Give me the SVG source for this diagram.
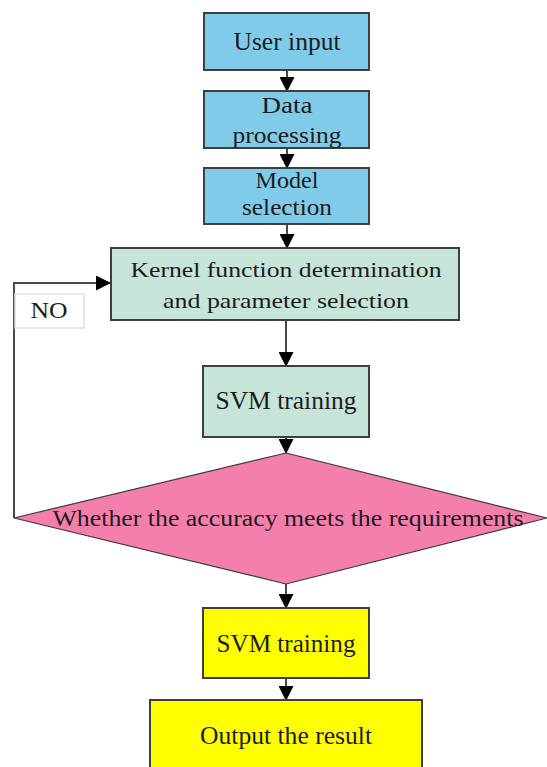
<svg xmlns="http://www.w3.org/2000/svg" width="547" height="767" viewBox="0 0 547 767">
  <style>
    text { font-family: "Liberation Serif", "Times New Roman", serif; font-size: 24px; fill: #1c1c1c; text-anchor: middle; }
    .big { font-size: 26px; }
    .mid { font-size: 23px; }
    .small { font-size: 21px; }
    .box { stroke: #3f3f3f; stroke-width: 2; }
    .blue { fill: #80cbe9; }
    .teal { fill: #c7e4d9; }
    .pink { fill: #f47fad; }
    .yellow { fill: #ffff00; }
    .conn { fill: none; stroke: #4a4a4a; stroke-width: 2; }
  </style>
  <defs>
    <marker id="arrow" markerWidth="15" markerHeight="15" refX="14" refY="7.5" orient="auto" markerUnits="userSpaceOnUse">
      <path d="M0,0 L15,7.5 L0,15 Z" fill="#000"/>
    </marker>
  </defs>
  <rect width="547" height="767" fill="#fff"/>

  <g id="connectors">
    <line class="conn" x1="287" y1="70" x2="287" y2="91" marker-end="url(#arrow)"/>
    <line class="conn" x1="287" y1="148" x2="287" y2="168" marker-end="url(#arrow)"/>
    <line class="conn" x1="287" y1="224" x2="287" y2="248" marker-end="url(#arrow)"/>
    <line class="conn" x1="286" y1="320" x2="286" y2="366" marker-end="url(#arrow)"/>
    <line class="conn" x1="286" y1="437" x2="286" y2="453" marker-end="url(#arrow)"/>
    <line class="conn" x1="286" y1="584" x2="286" y2="608" marker-end="url(#arrow)"/>
    <line class="conn" x1="286" y1="678" x2="286" y2="700" marker-end="url(#arrow)"/>
    <polyline class="conn" points="14,518 14,283 110,283" marker-end="url(#arrow)"/>
  </g>

  <g id="no-label">
    <rect x="15" y="294" width="69" height="34" fill="#fff" stroke="#e2e2e2" stroke-width="1.5"/>
    <text x="49" y="318" textLength="37" lengthAdjust="spacingAndGlyphs">NO</text>
  </g>

  <g id="user-input">
    <rect class="box blue" x="204" y="13" width="165" height="57"/>
    <text class="big" x="287" y="50" textLength="107" lengthAdjust="spacingAndGlyphs">User input</text>
  </g>

  <g id="data-processing">
    <rect class="box blue" x="204" y="91" width="165" height="57"/>
    <text x="287" y="113" textLength="51" lengthAdjust="spacingAndGlyphs">Data</text>
    <text x="287" y="143" textLength="109" lengthAdjust="spacingAndGlyphs">processing</text>
  </g>

  <g id="model-selection">
    <rect class="box blue" x="204" y="168" width="165" height="56"/>
    <text x="287" y="188" textLength="63" lengthAdjust="spacingAndGlyphs">Model</text>
    <text x="287" y="215" textLength="90" lengthAdjust="spacingAndGlyphs">selection</text>
  </g>

  <g id="kernel-selection">
    <rect class="box teal" x="111" y="248" width="348" height="72"/>
    <text class="small" x="286" y="277" textLength="311" lengthAdjust="spacingAndGlyphs">Kernel function determination</text>
    <text class="small" x="286" y="308" textLength="246" lengthAdjust="spacingAndGlyphs">and parameter selection</text>
  </g>

  <g id="svm-training">
    <rect class="box teal" x="203" y="366" width="166" height="71"/>
    <text class="big" x="286" y="409" textLength="141" lengthAdjust="spacingAndGlyphs">SVM training</text>
  </g>

  <g id="accuracy-check">
    <polygon class="pink" points="286,453 547,518 286,584 14,518" stroke="#3a3a3a" stroke-width="1.2"/>
    <text class="mid" x="288" y="526" textLength="471" lengthAdjust="spacingAndGlyphs">Whether the accuracy meets the requirements</text>
  </g>

  <g id="svm-training-final">
    <rect class="box yellow" x="203" y="608" width="166" height="70"/>
    <text class="big" x="286" y="652" textLength="139" lengthAdjust="spacingAndGlyphs">SVM training</text>
  </g>

  <g id="output-result">
    <rect class="box yellow" x="150" y="700" width="272" height="75"/>
    <text class="big" x="286" y="744" textLength="172" lengthAdjust="spacingAndGlyphs">Output the result</text>
  </g>
</svg>
